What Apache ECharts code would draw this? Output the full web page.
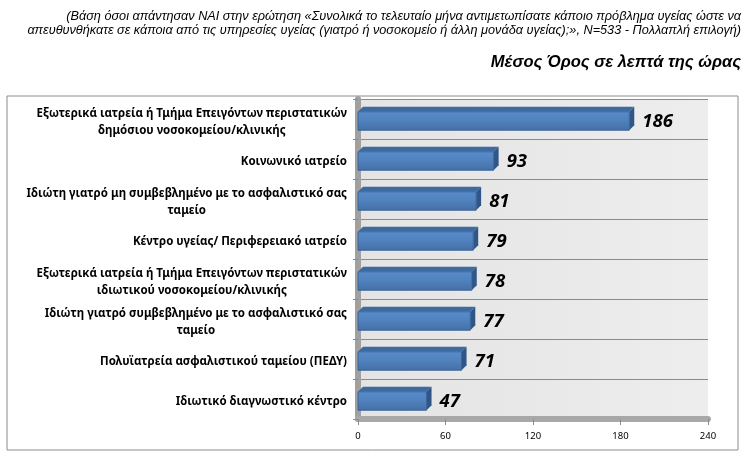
<!DOCTYPE html>
<html><head><meta charset="utf-8">
<script src="https://cdn.jsdelivr.net/npm/echarts@6/dist/echarts.min.js"></script>
<style>html,body{margin:0;padding:0;background:#fff}#c{width:744px;height:464px}</style>
</head><body><div id="c"></div>
<script>
const categories = [
  'Εξωτερικά ιατρεία ή Τμήμα Επειγόντων περιστατικών\nδημόσιου νοσοκομείου/κλινικής',
  'Κοινωνικό ιατρείο',
  'Ιδιώτη γιατρό μη συμβεβλημένο με το ασφαλιστικό σας\nταμείο',
  'Κέντρο υγείας/ Περιφερειακό ιατρείο',
  'Εξωτερικά ιατρεία ή Τμήμα Επειγόντων περιστατικών\nιδιωτικού νοσοκομείου/κλινικής',
  'Ιδιώτη γιατρό συμβεβλημένο με το ασφαλιστικό σας\nταμείο',
  'Πολυϊατρεία ασφαλιστικού ταμείου (ΠΕΔΥ)',
  'Ιδιωτικό διαγνωστικό κέντρο'
];
const values = [186, 93, 81, 79, 78, 77, 71, 47];
const xTicks = [0, 60, 120, 180, 240];
const noteLine1 = '(Βάση όσοι απάντησαν ΝΑΙ στην ερώτηση «Συνολικά το τελευταίο μήνα αντιμετωπίσατε κάποιο πρόβλημα υγείας ώστε να';
const noteLine2 = 'απευθυνθήκατε σε κάποια από τις υπηρεσίες υγείας (γιατρό ή νοσοκομείο ή άλλη μονάδα υγείας);», N=533 - Πολλαπλή επιλογή)';
const subtitle = 'Μέσος Όρος σε λεπτά της ώρας';

const chart = echarts.init(document.getElementById('c'));
const sans = '"Liberation Sans",Arial,sans-serif';
const D = 5;
chart.setOption({
  animation: false,
  backgroundColor: '#fff',
  graphic: [
    {type:'rect', z:-10, shape:{x:7,y:96,width:731,height:354}, style:{fill:'none', stroke:'#8c8c8c', lineWidth:1}},
    {type:'text', right:3, top:10, style:{text:noteLine1, font:'italic 12.7px '+sans, fill:'#000', textAlign:'right'}},
    {type:'text', right:3, top:24, style:{text:noteLine2, font:'italic 12.7px '+sans, fill:'#000', textAlign:'right'}},
    {type:'text', right:3, top:54, style:{text:subtitle, font:'italic bold 16.5px '+sans, fill:'#000', textAlign:'right'}}
  ],
  grid: {left:358, right:36, top:99, bottom:45, show:true,
    backgroundColor:{type:'linear',x:0,y:0,x2:1,y2:0,colorStops:[{offset:0,color:'#e4e4e4'},{offset:1,color:'#ededed'}]},
    borderWidth:0},
  xAxis: {type:'value', min:0, max:240, interval:60,
    axisLine:{show:true, lineStyle:{color:'#a8a8a8', width:6}},
    axisTick:{show:true, length:6, lineStyle:{color:'#8c8c8c'}},
    axisLabel:{color:'#000', fontSize:9.5, fontFamily:'"Noto Sans",sans-serif', margin:12,
      formatter: v => xTicks.includes(v) ? String(v) : ''},
    splitLine:{show:false}},
  yAxis: {type:'category', data:categories, inverse:true,
    axisLine:{show:true, lineStyle:{color:'#a0a0a0', width:6}},
    axisTick:{show:true, length:5, lineStyle:{color:'#8c8c8c'}},
    splitLine:{show:true, lineStyle:{color:'#8a8a8a', width:1}},
    axisLabel:{color:'#000', align:'right', margin:11, padding:[6,0,0,0],
      formatter: v => v.split('\n').map(l => '{c|' + l + '}').join('\n'),
      rich:{c:{align:'center', fontSize:11.5, fontWeight:'bold', fontFamily:'"Noto Sans",sans-serif', lineHeight:17, color:'#000'}}}},
  series: [{
    type:'custom',
    data: values.map((v,i)=>[i,v]),
    encode:{x:1, y:0},
    renderItem: function(params, api){
      const idx = api.value(0), val = api.value(1);
      const s = api.coord([0, idx]), e = api.coord([val, idx]);
      const h = api.size([0,1])[1]*0.46;
      const x = s[0], y = s[1]-h/2+2, w = e[0]-s[0];
      return {type:'group', children:[
        {type:'polygon', shape:{points:[[x,y],[x+D,y-D],[x+w+D,y-D],[x+w,y]]}, style:{fill:'#3d6aa0'}},
        {type:'polygon', shape:{points:[[x+w,y],[x+w+D,y-D],[x+w+D,y+h-D],[x+w,y+h]]}, style:{fill:'#2f5687'}},
        {type:'rect', shape:{x:x,y:y,width:w,height:h}, style:{
          fill:{type:'linear',x:0,y:0,x2:0,y2:1,colorStops:[{offset:0,color:'#5a8ccb'},{offset:0.5,color:'#4f81bd'},{offset:1,color:'#456fa5'}]},
          stroke:'#3b659a', lineWidth:1}},
        {type:'text', style:{text:String(val), x:x+w+D+8, y:y+h/2+1, textVerticalAlign:'middle', textAlign:'left',
          font:'italic bold 18.5px "Open Sans",sans-serif', fill:'#000'}}
      ]};
    }
  }]
});
</script></body></html>
